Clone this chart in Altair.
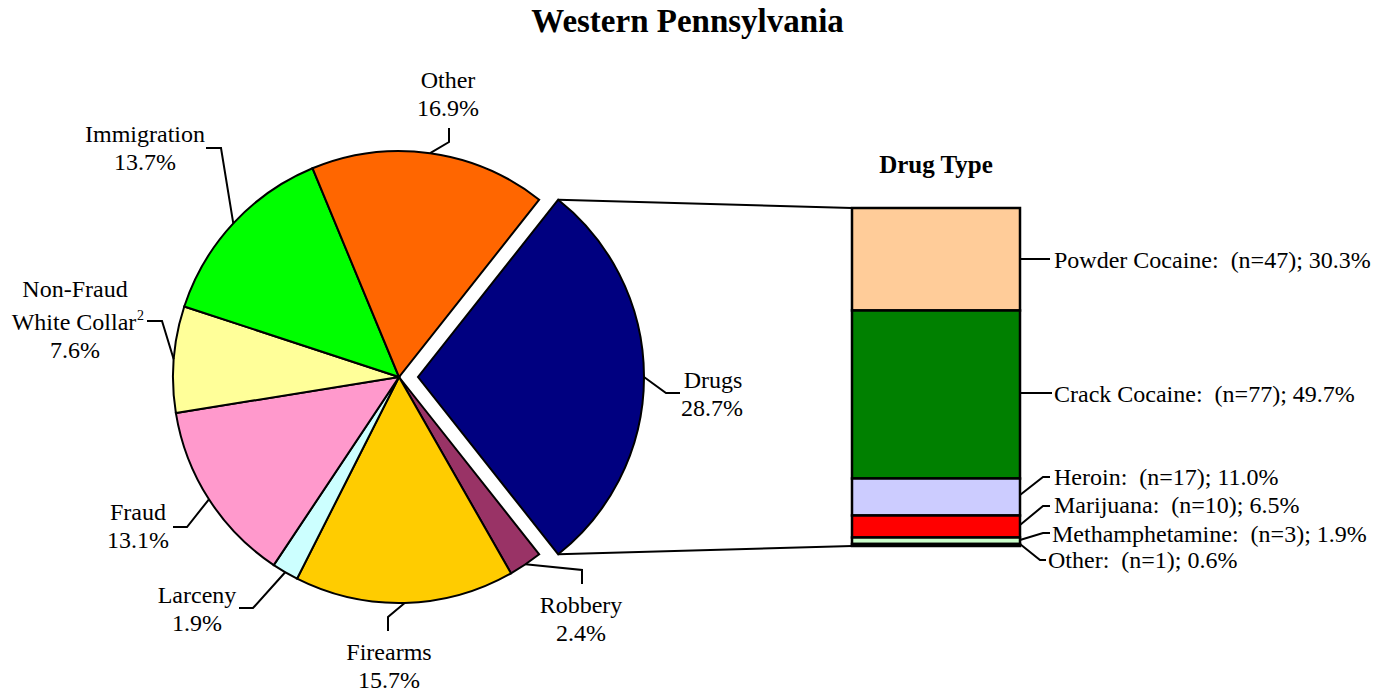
import math
import altair as alt
import pandas as pd

# ---------------- data ----------------
crimes = ["Drugs", "Robbery", "Firearms", "Larceny", "Fraud",
          "Non-Fraud White Collar", "Immigration", "Other"]
crime_pct = [28.7, 2.4, 15.7, 1.9, 13.1, 7.6, 13.7, 16.9]
crime_colors = ["#000080", "#993366", "#FFCC00", "#CCFFFF", "#FF99CC",
                "#FFFF99", "#00FF00", "#FF6600"]

drug_types = ["Powder Cocaine", "Crack Cocaine", "Heroin", "Marijuana",
              "Methamphetamine", "Other"]
drug_n = [47, 77, 17, 10, 3, 1]
drug_pct = [30.3, 49.7, 11.0, 6.5, 1.9, 0.6]
drug_colors = ["#FFCC99", "#008000", "#CCCCFF", "#FF0000", "#CCFFCC", "#000000"]

title_text = "Western Pennsylvania"
bar_title = "Drug Type"

# ---------------- layout (page pixel coordinates) ----------------
OFF = 8
W, H = 1387 - 2 * OFF, 693 - OFF
CX, CY, R, EXPLODE = 399, 377, 226, 19
BAR_X0, BAR_X1, BAR_Y0, BAR_Y1 = 852, 1020, 208, 546
FONT = "Liberation Serif"

# pie label lines: (crime, [(text, x, baseline_y)...]), leader elbow points
pie_label_layout = {
    "Drugs": ([("Drugs", 713, 388), ("28.7%", 712, 416)], [(666, 393), (680, 393)]),
    "Robbery": ([("Robbery", 581, 613), ("2.4%", 581, 641)], [(582, 570), (582, 584)]),
    "Firearms": ([("Firearms", 389, 660), ("15.7%", 389, 688)], [(388, 617), (388, 631)]),
    "Larceny": ([("Larceny", 197, 603), ("1.9%", 197, 631)], [(253, 608), (239, 608)]),
    "Fraud": ([("Fraud", 138, 520), ("13.1%", 138, 548)], [(187, 527), (173, 527)]),
    "Non-Fraud White Collar": ([("Non-Fraud", 75, 297), ("White Collar", 74, 330), ("7.6%", 75, 358)],
                               [(162, 321), (147, 321)]),
    "Immigration": ([("Immigration", 145, 142), ("13.7%", 145, 170)], [(221, 148), (206, 148)]),
    "Other": ([("Other", 448, 88), ("16.9%", 448, 116)], [(449, 142), (449, 128)]),
}
superscript = ("2", 137, 320)

drug_label_layout = [  # text x, baseline y, leader points after bar edge
    (1054, 268, [(1020, 259), (1050, 259)]),
    (1054, 402, [(1020, 393), (1052, 393)]),
    (1054, 485, [(1020, 495), (1043, 477), (1050, 477)]),
    (1054, 513, [(1020, 525), (1043, 506), (1050, 506)]),
    (1052, 542, [(1020, 540), (1043, 533), (1050, 533)]),
    (1048, 568, [(1020, 544), (1040, 560), (1046, 560)]),
]

# ---------------- derived tables ----------------
total = sum(crime_pct)
theta0 = math.pi / 2 - math.pi * crime_pct[0] / total
pie_rows, cum = [], 0.0
for name, p in zip(crimes, crime_pct):
    pie_rows.append({"crime": name, "t0": cum, "t1": cum + p})
    cum += p
pie_df = pd.DataFrame(pie_rows)

bar_rows, cum = [], 0.0
for name, p in zip(drug_types, drug_pct):
    bar_rows.append({"drug": name, "b0": cum, "b1": cum + p})
    cum += p
bar_df = pd.DataFrame(bar_rows)

line_rows, text_rows = [], []
for i, (name, p, row) in enumerate(zip(crimes, crime_pct, pie_rows)):
    mid = theta0 + 2 * math.pi * (row["t0"] + row["t1"]) / 2 / total
    cx = CX + (EXPLODE if name == "Drugs" else 0)
    pts = [(cx + R * math.sin(mid), CY - R * math.cos(mid))] + pie_label_layout[name][1]
    for j, (x, y) in enumerate(pts):
        line_rows.append({"id": f"pie{i}", "o": j, "x": x, "y": y})
    for t, x, y in pie_label_layout[name][0]:
        text_rows.append({"text": t, "x": x, "y": y})

# connector lines from exploded slice corners to bar
a_start = theta0
a_end = theta0 + 2 * math.pi * crime_pct[0] / total
for k, (a, by) in enumerate([(a_start, BAR_Y0), (a_end, BAR_Y1)]):
    line_rows.append({"id": f"con{k}", "o": 0, "x": CX + EXPLODE + R * math.sin(a), "y": CY - R * math.cos(a)})
    line_rows.append({"id": f"con{k}", "o": 1, "x": BAR_X0, "y": by})

drug_text_rows = []
for i, (name, n, p, lay) in enumerate(zip(drug_types, drug_n, drug_pct, drug_label_layout)):
    tx, ty, pts = lay
    for j, (x, y) in enumerate(pts):
        line_rows.append({"id": f"bar{i}", "o": j, "x": x, "y": y})
    drug_text_rows.append({"text": f"{name}:\u00a0 (n={n}); {p:.1f}%", "x": tx, "y": ty})

line_df = pd.DataFrame(line_rows)
text_df = pd.DataFrame(text_rows)
drug_text_df = pd.DataFrame(drug_text_rows)

# ---------------- scales ----------------
xs = alt.Scale(domain=[OFF, OFF + W], range=[0, W])
ys = alt.Scale(domain=[OFF, OFF + H], range=[0, H])
theta_scale = alt.Scale(domain=[0, total], range=[theta0, theta0 + 2 * math.pi])
crime_color = alt.Color("crime:N", scale=alt.Scale(domain=crimes, range=crime_colors), legend=None)

# ---------------- layers ----------------
title = alt.Chart(pd.DataFrame({"t": [title_text]})).mark_text(
    font=FONT, fontSize=33, fontWeight="bold", align="center", baseline="alphabetic", color="black"
).encode(x=alt.value(687.5 - OFF), y=alt.value(32 - OFF), text="t:N")

bar_head = alt.Chart(pd.DataFrame({"t": [bar_title]})).mark_text(
    font=FONT, fontSize=25, fontWeight="bold", align="center", baseline="alphabetic", color="black"
).encode(x=alt.value(936 - OFF), y=alt.value(173 - OFF), text="t:N")

pie = alt.Chart(pie_df).transform_filter(alt.datum.crime != "Drugs").mark_arc(
    outerRadius=R, stroke="black", strokeWidth=2
).encode(
    theta=alt.Theta("t0:Q", scale=theta_scale),
    theta2="t1:Q",
    color=crime_color,
    x=alt.value(CX - OFF), y=alt.value(CY - OFF),
)

drugs_slice = alt.Chart(pie_df).transform_filter(alt.datum.crime == "Drugs").mark_arc(
    outerRadius=R, stroke="black", strokeWidth=2
).encode(
    theta=alt.Theta("t0:Q", scale=theta_scale),
    theta2="t1:Q",
    color=crime_color,
    x=alt.value(CX + EXPLODE - OFF), y=alt.value(CY - OFF),
)

bar = alt.Chart(bar_df).mark_rect(stroke="black", strokeWidth=2.5).encode(
    x=alt.value(BAR_X0 - OFF), x2=alt.value(BAR_X1 - OFF),
    y=alt.Y("b0:Q", scale=alt.Scale(domain=[0, sum(drug_pct)], range=[BAR_Y0 - OFF, BAR_Y1 - OFF]), axis=None),
    y2="b1:Q",
    color=alt.Color("drug:N", scale=alt.Scale(domain=drug_types, range=drug_colors), legend=None),
)

leaders = alt.Chart(line_df).mark_line(color="black", strokeWidth=2).encode(
    x=alt.X("x:Q", scale=xs, axis=None),
    y=alt.Y("y:Q", scale=ys, axis=None),
    detail="id:N",
    order="o:Q",
)

pie_text = alt.Chart(text_df).mark_text(
    font=FONT, fontSize=24, align="center", baseline="alphabetic", color="black"
).encode(x=alt.X("x:Q", scale=xs, axis=None), y=alt.Y("y:Q", scale=ys, axis=None), text="text:N")

sup_text = alt.Chart(pd.DataFrame([{"text": superscript[0], "x": superscript[1], "y": superscript[2]}])).mark_text(
    font=FONT, fontSize=14, align="left", baseline="alphabetic", color="black"
).encode(x=alt.X("x:Q", scale=xs, axis=None), y=alt.Y("y:Q", scale=ys, axis=None), text="text:N")

drug_text = alt.Chart(drug_text_df).mark_text(
    font=FONT, fontSize=24, align="left", baseline="alphabetic", color="black"
).encode(x=alt.X("x:Q", scale=xs, axis=None), y=alt.Y("y:Q", scale=ys, axis=None), text="text:N")

chart = alt.layer(
    pie, drugs_slice, bar, leaders, pie_text, sup_text, drug_text, title, bar_head
).resolve_scale(
    x="independent", y="independent", color="independent", theta="independent"
).properties(
    width=W, height=H, padding=0, autosize="none", background="white"
).configure_view(stroke=None)

chart.save("out.html", embed_options={"renderer": "svg", "actions": False})
